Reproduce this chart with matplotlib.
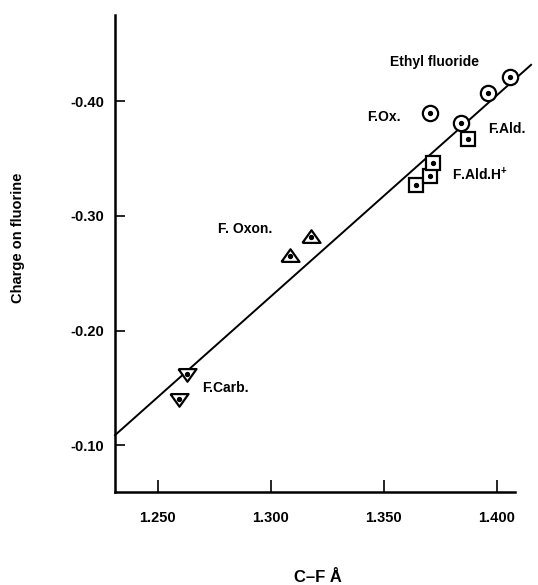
import matplotlib
matplotlib.use("Agg")
import matplotlib.pyplot as plt
import numpy as np

plt.rcParams['font.family'] = ['Liberation Sans', 'DejaVu Sans']
plt.rcParams['font.weight'] = 'bold'
plt.rcParams['mathtext.fontset'] = 'custom'
plt.rcParams['mathtext.rm'] = 'Liberation Sans:bold'
plt.rcParams['mathtext.bf'] = 'Liberation Sans:bold'

# Data (C-F bond length in Angstrom, charge on fluorine)
ethyl_x = [1.3841, 1.3960, 1.4059]
ethyl_y = [-0.381, -0.407, -0.421]
fox_x = [1.3705]
fox_y = [-0.390]
fald_x = [1.3872]
fald_y = [-0.367]
faldh_x = [1.3643, 1.3705, 1.3719]
faldh_y = [-0.327, -0.335, -0.346]
foxon_x = [1.3085, 1.3179]
foxon_y = [-0.265, -0.282]
fcarb_x = [1.2594, 1.2631]
fcarb_y = [-0.140, -0.162]
fit_x = [1.2311, 1.4152]
fit_y = [-0.1087, -0.4319]

xticks = [1.25, 1.30, 1.35, 1.40]
xticklabels = ['1.250', '1.300', '1.350', '1.400']
yticks = [-0.10, -0.20, -0.30, -0.40]
yticklabels = ['-0.10', '-0.20', '-0.30', '-0.40']

fig = plt.figure(figsize=(5.38, 5.85), dpi=100)
ax = fig.add_axes([115/538, 1-492/585, 400/538, 477/585])

ax.plot(fit_x, fit_y, color='black', lw=1.4, clip_on=False, zorder=2)

up_tri = [(-1, -0.6), (1, -0.6), (0, 0.8), (-1, -0.6)]
down_tri = [(-1, 0.6), (1, 0.6), (0, -0.8), (-1, 0.6)]

mk = dict(linestyle='none', markerfacecolor='white', markeredgecolor='black',
          markeredgewidth=1.6, clip_on=False, zorder=3)
ax.plot(ethyl_x, ethyl_y, marker='o', markersize=11, **mk)
ax.plot(fox_x, fox_y, marker='o', markersize=11, **mk)
ax.plot(fald_x, fald_y, marker='s', markersize=10, **mk)
ax.plot(faldh_x, faldh_y, marker='s', markersize=10, **mk)
ax.plot(foxon_x, foxon_y, marker=up_tri, markersize=13, **mk)
ax.plot(fcarb_x, fcarb_y, marker=down_tri, markersize=13, **mk)

dot = dict(linestyle='none', marker='o', markersize=2.8, color='black',
           clip_on=False, zorder=4)
for xs, ys in [(ethyl_x, ethyl_y), (fox_x, fox_y), (fald_x, fald_y),
               (faldh_x, faldh_y), (foxon_x, foxon_y), (fcarb_x, fcarb_y)]:
    ax.plot(xs, ys, **dot)

ax.set_xlim(1.2311, 1.4081)
ax.set_ylim(-0.0591, -0.4754)

for s in ['top', 'right']:
    ax.spines[s].set_visible(False)
for s in ['left', 'bottom']:
    ax.spines[s].set_linewidth(1.8)

ax.set_xticks(xticks)
ax.set_xticklabels(xticklabels)
ax.set_yticks(yticks)
ax.set_yticklabels(yticklabels)
ax.tick_params(axis='x', direction='in', length=9, width=1.2, pad=14, labelsize=10.5)
ax.tick_params(axis='y', direction='in', length=7, width=1.2, pad=8, labelsize=10.5)

tk = dict(fontsize=10, fontweight='bold', va='center', ha='left')
ax.text(1.3528, -0.4348, 'Ethyl fluoride', **tk)
ax.text(1.3426, -0.3860, 'F.Ox.', **tk)
ax.text(1.3962, -0.3757, 'F.Ald.', **tk)
ax.text(1.3802, -0.3357, r'F.Ald.H$^{+}$', **tk)
ax.text(1.2767, -0.2887, 'F. Oxon.', **tk)
ax.text(1.2696, -0.1496, 'F.Carb.', **tk)

fig.text(18/538, 1-238/585, 'Charge on fluorine', rotation=90, fontsize=10.5,
         fontweight='bold', va='center', ha='center')
fig.text(318/538, 1-577/585, 'C–F Å', fontsize=12, fontweight='bold',
         va='center', ha='center')

fig.savefig('out.png', dpi=100)
